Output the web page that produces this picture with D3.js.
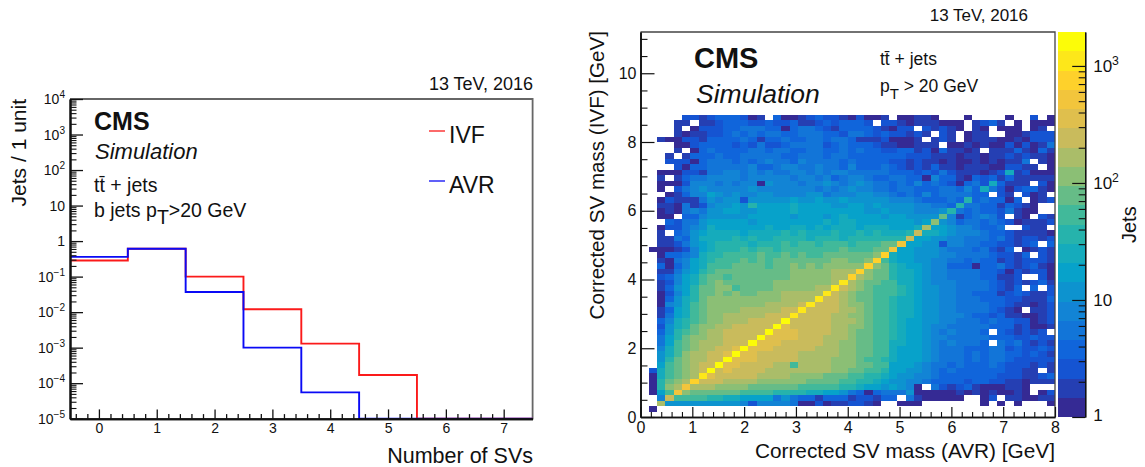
<!DOCTYPE html>
<html>
<head>
<meta charset="utf-8">
<script src="https://cdn.jsdelivr.net/npm/d3@7/dist/d3.min.js"></script>
<style>
html,body{margin:0;padding:0;background:#fff;overflow:hidden}
text{font-family:"Liberation Sans",Arial,sans-serif;fill:#111}
.axis path{fill:none}
</style>
</head>
<body>
<svg id="c" width="1145" height="467"></svg>
<script>
// ---- Left panel data ----
const svEdges = [-0.5,0.5,1.5,2.5,3.5,4.5,5.5,6.5,7.5];
const ivfValues = [0.285,0.61,0.10,0.012,0.0013,0.00017,1e-5,1e-5];
const avrValues = [0.36,0.61,0.037,0.001,0.000055,1e-5,1e-5,1e-5];
const svTicks = [0,1,2,3,4,5,6,7];

// ---- Right panel data: one string per y bin (top bin first), one char per x bin.
// '.' = empty cell, otherwise the colour band (base 20).
const massBinWidth = 0.16;
const topRowIndex = 54;
const massRows = [
".....22123 33201.3001 2322102001 .00110...0 ....0..2.0",
"....11.112 3332232231 12323332.2 210111000. 1231.0.000",
"....1.0222 3344433034 4321333321 022.21210. 10.000.01.",
"....101122 3434344334 4433244323 22121.21.0 11..001222",
"..10022133 3343133433 4434431112 0001.121.0 1110010222",
"....002333 3232422344 4423433321 100111.001 0100202014",
"....1.0343 3334434433 4433434332 2331203110 1.11131031",
"...1.13334 3344444334 4434433333 3322211101 1011212110",
"...2220344 4343454435 4444343333 2212110100 1010114.10",
"....203344 4445334554 4544353334 3212131101 11002211.0",
"..00022144 5545454455 4545544444 3332324211 1012812000",
"..1.134455 5545555545 5453455433 4433053310 3231311111",
"..00025554 5455065554 5565456544 3435343203 4283111.20",
"..0.245655 5556555555 5454565544 3443334435 3842023310",
"...0135576 5655665555 6645556655 4343534444 33.21.201.",
"..02111465 6626666676 6766766666 5554333439 343303.012",
"..11041256 6769777787 7776677676 6665544394 43313210..",
"..01045466 7766777787 7777777667 6665556943 43324100..",
"..00.33566 6667777767 7767877776 776666b513 4542.10.21",
"...3244677 7776777777 7787887777 77767c6534 4343201112",
"..02245687 7777787788 7878887888 7778d77655 4334..211.",
"..1.346788 8878888989 8889889898 889e887655 5433211110",
"..11436888 8989889999 8999899999 99e7766554 4434212212",
"..11246789 9998999a9a a9aaa9aaab bg77662554 43322123.3",
".000125789 99a9aa9aaa aaaabaaabb g776665444 34213.0121",
"..03345899 aaaabaabab aabbbbbbch 8776665544 4432213.21",
"..1045789a aabababbbb bbbccbbcha 8776655443 4331212221",
"..303578aa abbbbabbcb cbccccchcb 9877655333 0334212310",
"..114679ab bbbbbbbbcc cccdddhcbb 9887655444 4332021220",
"..23578abb abbbbbbbcc cccddhdcbb 9887655444 433112..20",
"..12578abc bbbbbbcccc cccdidcbba a887655544 4432121231",
"..13679bbc cabbbbcccc cddiedcbaa a987665544 443213.3.2",
"..02579bbc bcbbcccddd ddiedcbbaa a987665544 3331232112",
"..03689bcc cccccccddd dieedcbbaa 9887665544 4333221113",
"..0568abcc cccccdddde ieeedccbaa 9887665544 4433211012",
"..1378abcc ccdddddeei eeeeddcbaa 9887665544 443210.112",
"..1478abcc dddddeeeie eeeddccbaa 9887665554 3323110012",
"..3589abcc dddeeeejee eeedddcbaa 9877665544 4343322012",
"..2689bccd deeeeejfee eeeddccbaa 9877655444 4433312001",
"..369abcdd eeeeejfffe eeeddcbbaa 9877654544 43.321212.",
"..479bccdd eeeejffffe eedddcbbaa 9877655444 4433322322",
"..47abcddd eeejfffeee eeddccbbaa 8877654544 43.4342121",
"..58abcdde efjfffeeee edddccbbaa 8777654443 3344232232",
"..68acddee fjffeeeeed ddddccbbaa 8777654443 4344332321",
"..69bcddee jfffeeeeed dddcccbaa9 8777654443 4344322222",
"..7abcdeej ffeeeeddad dddcccbbaa 7776544343 3343222121",
".28abcdeje feeeeddddd dddccbbaa9 7766543433 33332211.1",
".08abcdife eeeeddddcc ccbbbaa998 7665543333 3332221123",
".09bcdheee ddddcccccc bbbbaa9987 6655433332 3322110111",
".09cdgdddc cccbbbbbba aaaa998776 7650.42123 1000110...",
".07agcbbbb bbaaaa9999 8877643034 4460000010 1010010.02",
"..5eaaaa99 8877774643 3133312213 3.4100000. .02.110011",
"..d6666666 6652555540 020112210. .000...... .0.0.0...0",
".0"
];
const bandCount = 20;
const zMax = 1950;
const birdRed   = [0.2082,0.0592,0.0780,0.0232,0.1802,0.5301,0.8186,0.9956,0.9900];
const birdGreen = [0.1664,0.3599,0.5041,0.6419,0.7178,0.7492,0.7328,0.7862,0.9900];
const birdBlue  = [0.5793,0.8684,0.8385,0.7914,0.6425,0.4662,0.3499,0.1968,0.0300];

const svg = d3.select('#c');
const INK = '#111', GREY = '#666';

function addText(s, x, y, str, size, opts={}){
  return s.append('text').attr('x',x).attr('y',y).attr('font-size',size)
    .attr('font-weight',opts.bold?'bold':null)
    .attr('font-style',opts.italic?'italic':null)
    .attr('text-anchor',opts.anchor||'start')
    .attr('transform',opts.rot?`rotate(-90 ${x} ${y})`:null)
    .text(str);
}
function powLabels(sel, size){
  sel.selectAll('.tick text').each(function(d){
    const e = Math.round(Math.log10(d));
    const t = d3.select(this).text(null);
    if(e===0){t.text('1');return;}
    if(e===1){t.text('10');return;}
    t.append('tspan').text('10');
    t.append('tspan').attr('dy',-size*0.42).attr('font-size',size*0.72).text(e<0?'\u2212'+(-e):e);
  });
}
function styleAxis(g, w, tw){
  g.attr('class','axis');
  g.select('.domain').attr('stroke',INK).attr('stroke-width',w);
  g.selectAll('.tick line').attr('stroke',INK).attr('stroke-width',tw);
  g.selectAll('text').attr('fill',INK).attr('font-family','"Liberation Sans",Arial,sans-serif');
}
function logMinors(dMin,dMax){
  const out=[];
  for(let e=dMin;e<dMax;e++) for(let m=2;m<=9;m++) out.push(m*Math.pow(10,e));
  return out;
}

// ================= LEFT PANEL =================
const L = {l:70,r:532.6,t:99,b:418.7};
const xL = d3.scaleLinear().domain([-0.5,7.5]).range([L.l,L.r]);
const yL = d3.scaleLog().domain([1e-5,1e4]).range([L.b,L.t]);
const left = svg.append('g');

left.append('path').attr('fill','none').attr('stroke',GREY).attr('stroke-width',1.8)
  .attr('d',d3.line()([[L.l,L.t],[L.r,L.t],[L.r,L.b]]));

const stepLine = vals => {
  const pts=[];
  vals.forEach((v,i)=>{pts.push([xL(svEdges[i]),yL(v)]);pts.push([xL(svEdges[i+1]),yL(v)]);});
  return d3.line()(pts);
};
left.append('path').attr('fill','none').attr('stroke','#fb1a1a').attr('stroke-width',1.9)
  .attr('d',stepLine(ivfValues));
left.append('path').attr('fill','none').attr('stroke','#0a0af5').attr('stroke-width',1.9)
  .attr('d',stepLine(avrValues));

const gxL = left.append('g').attr('transform',`translate(0,${L.b})`)
  .call(d3.axisBottom(xL).tickValues(svTicks).tickSizeInner(-9.3).tickSizeOuter(0).tickPadding(4).tickFormat(d3.format('d')));
gxL.attr('font-size',14); styleAxis(gxL,2,1.3);
const gxLm = left.append('g').attr('transform',`translate(0,${L.b})`)
  .call(d3.axisBottom(xL).tickValues(d3.range(0,38).map(i=>-0.4+i*0.2).filter(v=>Math.abs(v-Math.round(v))>0.01&&v<7.5))
    .tickSizeInner(-4.6).tickSizeOuter(0).tickFormat(''));
styleAxis(gxLm,2,1.3);

const yDec = [1e-5,1e-4,1e-3,1e-2,1e-1,1,10,100,1000,10000];
const gyL = left.append('g').attr('transform',`translate(${L.l},0)`)
  .call(d3.axisLeft(yL).tickValues(yDec).tickSizeInner(-13).tickSizeOuter(0).tickPadding(5));
gyL.attr('font-size',14); styleAxis(gyL,2,1.3); powLabels(gyL,14);
const gyLm = left.append('g').attr('transform',`translate(${L.l},0)`)
  .call(d3.axisLeft(yL).tickValues(logMinors(-5,4)).tickSizeInner(-6.5).tickSizeOuter(0).tickFormat(''));
styleAxis(gyLm,2,1.1);

addText(left,533,90,'13 TeV, 2016',18,{anchor:'end'});
addText(left,94,130,'CMS',25,{bold:true});
addText(left,95,159,'Simulation',22,{italic:true});
addText(left,94,192,'tt\u0304 + jets',19.5);
const bj = addText(left,94,217,'b jets p',19.5);
bj.append('tspan').attr('dy',7).attr('font-size',19.5).text('T');
bj.append('tspan').attr('dy',-7).text('>20 GeV');
addText(left,26,99,'Jets / 1 unit',21,{rot:true,anchor:'end'});
addText(left,533,463,'Number of SVs',21.5,{anchor:'end'});

const legend = [{n:'IVF',c:'#fb1a1a',y:131,b:142.5},{n:'AVR',c:'#0a0af5',y:181,b:192.5}];
legend.forEach(d=>{
  left.append('line').attr('x1',429).attr('x2',445).attr('y1',d.y).attr('y2',d.y).attr('stroke',d.c).attr('stroke-width',1.3);
  addText(left,449,d.b,d.n,23);
});

// ================= RIGHT PANEL =================
const R = {l:640.5,r:1055,t:32,b:417};
const xR = d3.scaleLinear().domain([0,8]).range([R.l,R.r]);
const yR = d3.scaleLinear().domain([0,11.2]).range([R.b,R.t]);
const right = svg.append('g');

const stops = d3.range(birdRed.length).map(i=>i/(birdRed.length-1));
const bird = d3.scaleLinear().domain(stops)
  .range(stops.map((_,i)=>d3.rgb(birdRed[i]*255,birdGreen[i]*255,birdBlue[i]*255)))
  .interpolate(d3.interpolateRgb);
const logStep = Math.log10(zMax)/bandCount;
const bandColor = d3.range(bandCount).map(i=>bird(i/(bandCount-1)));
const zColor = d3.scaleQuantize().domain([0,Math.log10(zMax)]).range(bandColor);
const zValue = ch => Math.pow(10,(parseInt(ch,20)+0.5)*logStep);

const cells = [];
massRows.forEach((row,r)=>{
  row.replace(/ /g,'').split('').forEach((ch,c)=>{
    if(ch==='.') return;
    cells.push({x:c*massBinWidth,y:(topRowIndex-r)*massBinWidth,z:zValue(ch)});
  });
});
right.append('g').attr('shape-rendering','crispEdges').selectAll('rect').data(cells).join('rect')
  .attr('x',d=>xR(d.x)).attr('width',d=>xR(d.x+massBinWidth)-xR(d.x))
  .attr('y',d=>yR(d.y+massBinWidth)).attr('height',d=>yR(d.y)-yR(d.y+massBinWidth))
  .attr('fill',d=>zColor(Math.log10(d.z)));

right.append('path').attr('fill','none').attr('stroke','#444').attr('stroke-width',1.3)
  .attr('d',d3.line()([[R.l,R.t],[R.r,R.t],[R.r,R.b]]));

const gxR = right.append('g').attr('transform',`translate(0,${R.b})`)
  .call(d3.axisBottom(xR).ticks(8).tickSizeInner(-10).tickSizeOuter(0).tickPadding(5).tickFormat(d3.format('d')));
gxR.attr('font-size',16); styleAxis(gxR,1.6,1.2);
const gxRm = right.append('g').attr('transform',`translate(0,${R.b})`)
  .call(d3.axisBottom(xR).tickValues(d3.range(1,40).map(i=>i*0.2).filter(v=>Math.abs(v-Math.round(v))>0.01))
    .tickSizeInner(-5).tickSizeOuter(0).tickFormat(''));
styleAxis(gxRm,1.6,1.1);
const gyR = right.append('g').attr('transform',`translate(${R.l},0)`)
  .call(d3.axisLeft(yR).tickValues([0,2,4,6,8,10]).tickSizeInner(-14).tickSizeOuter(0).tickPadding(4).tickFormat(d3.format('d')));
gyR.attr('font-size',16); styleAxis(gyR,1.6,1.2);
const gyRm = right.append('g').attr('transform',`translate(${R.l},0)`)
  .call(d3.axisLeft(yR).tickValues(d3.range(1,23).map(i=>i*0.5).filter(v=>v%2!==0))
    .tickSizeInner(-7).tickSizeOuter(0).tickFormat(''));
styleAxis(gyRm,1.6,1.1);

// Colour bar
const B = {l:1057.7,r:1085.2};
const zAxisScale = d3.scaleLog().domain([1,zMax]).range([R.b,R.t]);
right.append('g').attr('shape-rendering','crispEdges').selectAll('rect').data(d3.range(bandCount)).join('rect')
  .attr('x',B.l).attr('width',B.r-B.l)
  .attr('y',i=>zAxisScale(Math.pow(10,(i+1)*logStep))).attr('height',i=>zAxisScale(Math.pow(10,i*logStep))-zAxisScale(Math.pow(10,(i+1)*logStep)))
  .attr('fill',i=>bandColor[i]);
const gz = right.append('g').attr('transform',`translate(${B.r},0)`)
  .call(d3.axisRight(zAxisScale).tickValues([1,10,100,1000]).tickSizeInner(-13).tickSizeOuter(0).tickPadding(8));
gz.attr('font-size',17); styleAxis(gz,1.3,1.2); powLabels(gz,17);
gz.selectAll('.tick:first-of-type text').attr('dy','0.2em');
const gzm = right.append('g').attr('transform',`translate(${B.r},0)`)
  .call(d3.axisRight(zAxisScale).tickValues(logMinors(0,4).filter(v=>v<zMax)).tickSizeInner(-6.5).tickSizeOuter(0).tickFormat(''));
styleAxis(gzm,1.3,1.1);

addText(right,1028,21,'13 TeV, 2016',17,{anchor:'end'});
addText(right,694,68,'CMS',29,{bold:true});
addText(right,696,103,'Simulation',26.5,{italic:true});
addText(right,880,65,'tt\u0304 + jets',17.5);
const pt = addText(right,880,92,'p',17.5);
pt.append('tspan').attr('dy',7).attr('font-size',15).text('T');
pt.append('tspan').attr('dy',-7).text(' > 20 GeV');
addText(right,604,31,'Corrected SV mass (IVF) [GeV]',20.6,{rot:true,anchor:'end'});
addText(right,1055,458,'Corrected SV mass (AVR) [GeV]',20.8,{anchor:'end'});
addText(right,1136,243,'Jets',20,{rot:true});
</script>
</body>
</html>
